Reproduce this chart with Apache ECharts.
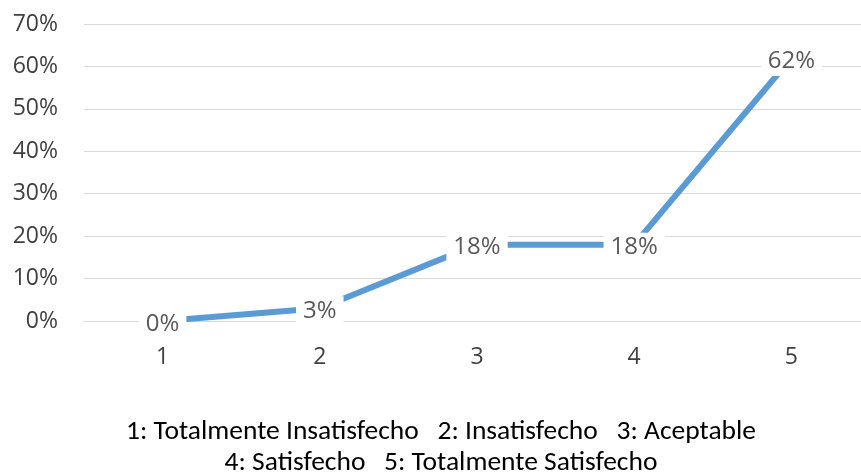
<!DOCTYPE html>
<html>
<head>
<meta charset="utf-8">
<script src="https://cdn.jsdelivr.net/npm/echarts@6/dist/echarts.min.js"></script>
<style>html,body{margin:0;padding:0;background:#fff}#c{width:861px;height:476px}</style>
</head>
<body>
<div id="c"></div>
<script>
const categories = ['1', '2', '3', '4', '5'];
const values = [0, 3, 18, 18, 62];
const yTicks = [0, 10, 20, 30, 40, 50, 60, 70];
const footnoteLines = [
  '1: Totalmente Insatisfecho   2: Insatisfecho   3: Aceptable',
  '4: Satisfecho   5: Totalmente Satisfecho'
];

const footFont = "Carlito, 'Liberation Sans Narrow', 'Open Sans', sans-serif";
const chart = echarts.init(document.getElementById('c'), null, {renderer: 'canvas'});
chart.setOption({
  animation: false,
  backgroundColor: '#fff',
  grid: {left: 84, width: 786, top: 24, bottom: 155, containLabel: false, outerBoundsMode: 'none'},
  graphic: footnoteLines.map((t, i) => ({
    type: 'text',
    x: 441,
    y: 432 + i * 31,
    style: {
      text: t,
      align: 'center',
      verticalAlign: 'middle',
      font: "27.5px " + footFont,
      fill: '#000'
    }
  })),
  xAxis: {
    type: 'category',
    data: categories,
    boundaryGap: true,
    axisLine: {lineStyle: {color: '#d9d9d9', width: 1}},
    axisTick: {show: false},
    axisLabel: {margin: 25, color: '#404040', fontSize: 23, fontFamily: "'Open Sans', sans-serif"}
  },
  yAxis: {
    type: 'value',
    min: yTicks[0],
    max: yTicks[yTicks.length - 1],
    interval: yTicks[1] - yTicks[0],
    axisLine: {show: false},
    axisTick: {show: false},
    splitLine: {lineStyle: {color: '#d9d9d9', width: 1}},
    axisLabel: {margin: 26, color: '#404040', fontSize: 23, fontFamily: "'Open Sans', sans-serif", formatter: '{value}%'}
  },
  series: [{
    type: 'line',
    data: values,
    showSymbol: true,
    symbol: 'circle',
    symbolSize: 0.5,
    itemStyle: {color: '#5B9BD5'},
    lineStyle: {color: '#5B9BD5', width: 6, cap: 'butt'},
    label: {
      show: true,
      position: 'inside',
      offset: [0, 3],
      formatter: p => p.value + '%',
      color: '#595959',
      fontSize: 24,
      fontFamily: "'Open Sans', sans-serif",
      backgroundColor: '#fff',
      padding: [3, 7]
    }
  }]
});
</script>
</body>
</html>
